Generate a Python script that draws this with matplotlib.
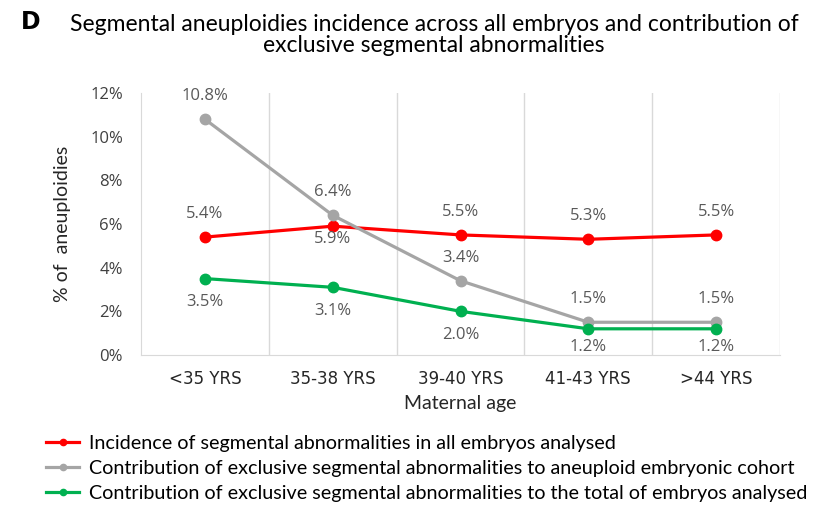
import matplotlib
matplotlib.use("Agg")
import matplotlib.pyplot as plt

# data (percent)
age_groups = ["<35 YRS", "35-38 YRS", "39-40 YRS", "41-43 YRS", ">44 YRS"]
incidence_all = [5.4, 5.9, 5.5, 5.3, 5.5]
contrib_aneuploid = [10.8, 6.4, 3.4, 1.5, 1.5]
contrib_total = [3.5, 3.1, 2.0, 1.2, 1.2]

# label offsets (points, + above / - below the marker)
off_incidence = [16.5, -9.5, 16.5, 16.5, 16.5]
off_aneuploid = [16.5, 16.5, 16.5, 16.5, 16.5]
off_total = [-17, -17, -17, -13, -13]

legend_labels = [
    "Incidence of segmental abnormalities in all embryos analysed",
    "Contribution of exclusive segmental abnormalities to aneuploid embryonic cohort",
    "Contribution of exclusive segmental abnormalities to the total of embryos analysed",
]

TXT = "Lato"
NUM = "Open Sans"
LBL_COL = "#595959"

fig = plt.figure(figsize=(8.27, 5.15), dpi=100)
ax = fig.add_axes([141 / 827, 1 - 355 / 515, 639 / 827, 262 / 515])

x = list(range(len(age_groups)))
series = [
    (incidence_all, "#FF0000", off_incidence, legend_labels[0]),
    (contrib_aneuploid, "#A5A5A5", off_aneuploid, legend_labels[1]),
    (contrib_total, "#00B050", off_total, legend_labels[2]),
]
handles = []
for vals, col, offs, lab in series:
    h, = ax.plot(x, vals, color=col, lw=2.3, marker="o", ms=7.5, label=lab, zorder=3)
    handles.append(h)
    for xi, v, o in zip(x, vals, offs):
        ax.annotate(f"{v:.1f}%", (xi, v), xytext=(0, o), textcoords="offset points",
                    ha="center", va="center", fontsize=12, family=NUM, color=LBL_COL)

ax.set_xlim(-0.5, len(age_groups) - 0.5)
ax.set_ylim(0, 12)
ax.set_yticks(range(0, 13, 2))
ax.set_yticklabels([f"{t}%" for t in range(0, 13, 2)], family=NUM, fontsize=12, color="#404040")
ax.set_xticks(x)
ax.set_xticklabels(age_groups, family="DejaVu Sans", fontsize=12, color="#262626")
ax.tick_params(axis="x", length=0, pad=10.5)
ax.tick_params(axis="y", length=0, pad=13)

# vertical separators between categories
for b in [i + 0.5 for i in x]:
    ax.axvline(b, color="#D9D9D9", lw=1, zorder=1)
for s in ["top", "right"]:
    ax.spines[s].set_visible(False)
for s in ["left", "bottom"]:
    ax.spines[s].set_color("#D9D9D9")

ax.set_xlabel("Maternal age", family=TXT, fontsize=14, color="#262626", labelpad=5)
ax.set_ylabel("% of  aneuploidies", family=TXT, fontsize=14, color="#262626", labelpad=14)

fig.text(31 / 827, 1 - 22 / 515, "D", family="DejaVu Sans", fontweight="bold", fontsize=17,
         ha="center", va="center")
fig.text(434 / 827, 1 - 35 / 515,
         "Segmental aneuploidies incidence across all embryos and contribution of\nexclusive segmental abnormalities",
         family=TXT, fontsize=16.5, ha="center", va="center", linespacing=1.05)

fig.legend(handles=handles, loc="upper left", bbox_to_anchor=(38 / 827, 1 - 427 / 515),
           frameon=False, prop={"family": TXT, "size": 14.2}, handlelength=1.7,
           handletextpad=0.5, labelspacing=0.41, markerscale=0.6, borderaxespad=0)

fig.savefig("out.png", dpi=100)
